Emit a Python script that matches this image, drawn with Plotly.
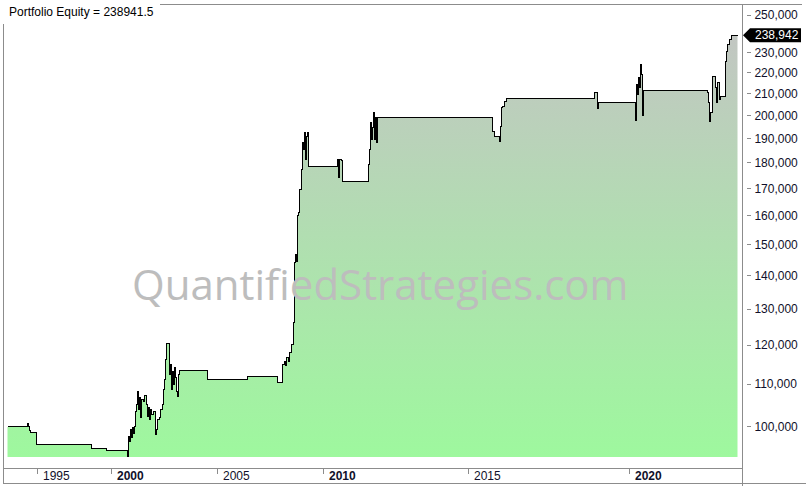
import math
import plotly.graph_objects as go

# ---------------- data ----------------
# x = bar position on the chart's bar axis, equity = portfolio equity
bar_x = [7, 27, 28, 29, 30, 36, 91, 106, 127, 128, 129, 130, 131, 132, 133, 134,
         135, 136, 137, 138, 139, 140, 141, 143, 144, 146, 147, 148, 149, 150, 151,
         153, 155, 156, 157, 159, 160, 162, 163, 164, 165, 166, 169, 170, 171, 172,
         173, 174, 175, 176, 177, 178, 179, 207, 247, 277, 282, 284, 285, 286, 288,
         289, 291, 293, 294, 295, 296, 297, 298, 299, 301, 302, 303, 304, 305, 306,
         307, 308, 337, 338, 339, 341, 342, 368, 369, 370, 371, 372, 373, 374, 375,
         376, 377, 492, 494, 499, 500, 501, 502, 504, 506, 594, 597, 598, 635, 636,
         637, 638, 639, 640, 641, 642, 643, 707, 708, 709, 710, 712, 715, 716, 717,
         719, 720, 725, 726, 727, 729, 731, 737]
equity = [100000, 100670, 100000, 99114, 98674, 96075, 95224, 94802, 93545, 97800,
          96719, 99335, 97583, 99778, 98455, 100000, 103393, 105015, 108096, 103854,
          106663, 102022, 106189, 105718, 107138, 105015, 102249, 104317, 101569,
          103854, 102705, 103393, 98236, 99335, 101569, 102022, 103854, 105015,
          108578, 111019, 116069, 120274, 112261, 114786, 108578, 113013, 109792,
          114023, 111515, 108096, 106900, 112261, 113264, 111019, 111763, 110281,
          114786, 115556, 114531, 116587, 115556, 117891, 120007, 126027, 144018,
          146603, 144338, 159888, 160959, 169407, 177114, 188075, 185169, 192307,
          181097, 190603, 192307, 178299, 181097, 173990, 181097, 180695, 172448,
          179094, 185169, 196630, 189336, 194457, 201053, 189336, 198829, 188075,
          198829, 192735, 190603, 188493, 194890, 203302, 203755, 206034, 207414,
          210200, 202850, 205577, 197945, 213974, 209267, 217331, 212552, 223708,
          218785, 200159, 211137, 210200, 205577, 197067, 201053, 217814, 212552,
          205577, 214929, 206952, 208339, 225205, 230270, 233884, 236499, 238942,
          238942]
fill_base = 93545
final_equity = 238941.5

y_tick_vals = [100000, 110000, 120000, 130000, 140000, 150000, 160000, 170000,
               180000, 190000, 200000, 210000, 220000, 230000, 250000]
year_tick_bars = [37, 111, 217, 323, 468, 629]
year_labels = ["1995", "2000", "2005", "2010", "2015", "2020"]
year_bold = [False, True, False, True, False, True]

# ---------------- layout geometry ----------------
W, H = 806, 486
ML, MR, MT, MB = 3, 60, 4, 18
PW, PH = W - ML - MR, H - MT - MB
y_range = [math.log10(91280), math.log10(256210)]

def px_x(p):
    return (p - ML) / PW

def px_y(p):
    return (MT + PH - p) / PH

FONT = "Liberation Sans, Arial, sans-serif"
GRID = "#8c8c8c"

fig = go.Figure()
fig.add_trace(go.Scatter(x=[bar_x[0], bar_x[-1]], y=[fill_base, fill_base],
                         mode="lines", line=dict(width=0), hoverinfo="skip",
                         showlegend=False))
fig.add_trace(go.Scatter(
    x=bar_x, y=equity, mode="lines", line=dict(color="black", width=1, shape="hv"),
    fill="tonexty",
    fillgradient=dict(type="vertical",
                      colorscale=[[0, "#9ef89e"], [1, "#c2c6c2"]]),
    showlegend=False))

shapes = []
def hline(y, x0, x1):
    shapes.append(dict(type="line", xref="paper", yref="paper",
                       x0=px_x(x0), x1=px_x(x1), y0=px_y(y), y1=px_y(y),
                       line=dict(color=GRID, width=1)))
def vline(x, y0, y1):
    shapes.append(dict(type="line", xref="paper", yref="paper",
                       x0=px_x(x), x1=px_x(x), y0=px_y(y0), y1=px_y(y1),
                       line=dict(color=GRID, width=1)))

vline(3.5, 24, 483.5)
hline(4.5, 160, 802)
vline(742.5, 4, 486)
hline(468.5, 3, 742)
hline(483.5, 3, 806)

# last value tag
cy = MT + (y_range[1] - math.log10(final_equity)) / (y_range[1] - y_range[0]) * PH
shapes.append(dict(type="path", xref="paper", yref="paper", fillcolor="black",
                   line=dict(width=0),
                   path="M {} {} L {} {} L {} {} L {} {} L {} {} Z".format(
                       px_x(743), px_y(cy), px_x(750), px_y(cy - 7),
                       px_x(801), px_y(cy - 7), px_x(801), px_y(cy + 7),
                       px_x(750), px_y(cy + 7))))

annotations = []
annotations.append(dict(xref="paper", yref="paper", x=px_x(753), y=px_y(cy),
                        xanchor="left", yanchor="middle", showarrow=False,
                        text=f"{round(final_equity):,}",
                        font=dict(family=FONT, size=12, color="white")))
annotations.append(dict(xref="paper", yref="paper", x=px_x(7), y=px_y(12),
                        xanchor="left", yanchor="middle", showarrow=False,
                        text=f"Portfolio Equity = {final_equity}",
                        font=dict(family=FONT, size=12, color="black")))
annotations.append(dict(xref="paper", yref="paper", x=px_x(380), y=px_y(283),
                        xanchor="center", yanchor="middle", showarrow=False,
                        text="QuantifiedStrategies.com",
                        font=dict(family="Open Sans", size=42, color="#bdbdbd")))
for b, lab, bold in zip(year_tick_bars, year_labels, year_bold):
    annotations.append(dict(xref="x", yref="paper", x=b, y=0, xanchor="left",
                            yanchor="top", xshift=3, yshift=1, showarrow=False,
                            text=f"<b>{lab}</b>" if bold else lab,
                            font=dict(family=FONT, size=12, color="#10102a")))

fig.update_layout(
    width=W, height=H, margin=dict(l=ML, r=MR, t=MT, b=MB),
    paper_bgcolor="white", plot_bgcolor="white", showlegend=False,
    shapes=shapes, annotations=annotations,
    xaxis=dict(range=[ML - 0.5, ML + PW - 0.5], showgrid=False, zeroline=False,
               showline=False, ticks="outside", ticklen=5, tickcolor=GRID,
               tickvals=year_tick_bars, showticklabels=False, fixedrange=True),
    yaxis=dict(type="log", side="right", range=y_range, showgrid=False,
               zeroline=False, showline=False, ticks="outside", ticklen=4,
               tickcolor=GRID, tickvals=y_tick_vals,
               ticktext=[f"{v:,}" for v in y_tick_vals],
               tickfont=dict(family=FONT, size=12, color="#10102a"),
               ticklabelstandoff=1, fixedrange=True),
)

fig.write_html(
    "out.html", config={"displayModeBar": False},
    post_script=(
        "document.body.style.margin='0';"
        "document.body.style.overflow='hidden';"
        "var st=document.createElement('style');"
        "st.textContent='path.js-line{shape-rendering:crispEdges}';"
        "document.head.appendChild(st);"
    ))
